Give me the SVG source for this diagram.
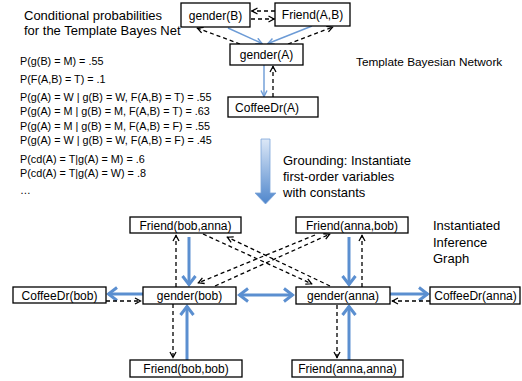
<svg xmlns="http://www.w3.org/2000/svg" width="522" height="381" viewBox="0 0 522 381">
<style>
.box{fill:#fff;stroke:#000;stroke-width:1.3}
.nt{font-family:"Liberation Sans",Arial,sans-serif;font-size:12px;fill:#000;text-anchor:middle}
.lt{font-family:"Liberation Sans",Arial,sans-serif;fill:#000}
.bt{fill:none;stroke:#5B8FD0;stroke-width:3}
.bs{fill:none;stroke:#6C9BD6;stroke-width:1.4}
.dl{fill:none;stroke:#000;stroke-width:1.3;stroke-dasharray:4,3}
</style>
<defs>
<marker id="mb" markerUnits="userSpaceOnUse" viewBox="0 0 12 16" refX="10" refY="8" markerWidth="12" markerHeight="16" orient="auto-start-reverse">
<path d="M1,1.5 L9.5,8 L1,14.5" fill="none" stroke="#5B8FD0" stroke-width="3"/>
</marker>
<marker id="ms" markerUnits="userSpaceOnUse" viewBox="0 0 8 8" refX="7" refY="4" markerWidth="8" markerHeight="8" orient="auto">
<path d="M1,1 L7,4 L1,7" fill="none" stroke="#6C9BD6" stroke-width="1.4"/>
</marker>
<marker id="md" markerUnits="userSpaceOnUse" viewBox="0 0 8 8" refX="7" refY="4" markerWidth="8" markerHeight="8" orient="auto">
<path d="M1,1 L6.5,4 L1,7" fill="none" stroke="#000" stroke-width="1.3"/>
</marker>
<linearGradient id="gr" gradientUnits="userSpaceOnUse" x1="0" y1="139" x2="0" y2="204">
<stop offset="0" stop-color="#DCE8F7"/>
<stop offset="1" stop-color="#4F86CC"/>
</linearGradient>
</defs>

<g id="labels">
<text class="lt" x="24" y="20" font-size="13">Conditional probabilities</text>
<text class="lt" x="24" y="35" font-size="13">for the Template Bayes Net</text>
<g font-size="10.8">
<text class="lt" x="20" y="65">P(g(B) = M) = .55</text>
<text class="lt" x="20" y="83">P(F(A,B) = T) = .1</text>
<text class="lt" x="20" y="101">P(g(A) = W  |  g(B) = W, F(A,B) = T) = .55</text>
<text class="lt" x="20" y="115">P(g(A) = M  |  g(B) = M, F(A,B) = T) = .63</text>
<text class="lt" x="20" y="130">P(g(A) = M  |  g(B) = M, F(A,B) = F) = .55</text>
<text class="lt" x="20" y="144">P(g(A) = W  |  g(B) = W, F(A,B) = F) = .45</text>
<text class="lt" x="20" y="163">P(cd(A) = T|g(A) = M) = .6</text>
<text class="lt" x="20" y="177">P(cd(A) = T|g(A) = W) = .8</text>
<text class="lt" x="20" y="194">…</text>
</g>
<text class="lt" x="356" y="66" font-size="11.8">Template Bayesian Network</text>
<text class="lt" x="283" y="165" font-size="13">Grounding: Instantiate</text>
<text class="lt" x="283" y="181" font-size="13">first-order variables</text>
<text class="lt" x="283" y="197" font-size="13">with constants</text>
<text class="lt" x="433" y="230" font-size="13">Instantiated</text>
<text class="lt" x="433" y="247" font-size="13">Inference</text>
<text class="lt" x="433" y="263" font-size="13">Graph</text>
</g>

<g id="grounding-arrow">
<path d="M261,139 H270 V193 H276 L265.5,204 L255,193 H261 Z" fill="url(#gr)" stroke="#7FA6D9" stroke-width="0.8"/>
</g>

<g id="connectors">
<line class="bs" x1="228" y1="28" x2="262" y2="43.5" marker-end="url(#ms)"/>
<line class="bs" x1="312" y1="26" x2="268" y2="43.5" marker-end="url(#ms)"/>
<line class="bs" x1="264" y1="65" x2="264" y2="96.5" marker-end="url(#ms)"/>
<line class="dl" x1="240" y1="44" x2="197" y2="28" marker-end="url(#md)"/>
<line class="dl" x1="288" y1="44" x2="333" y2="27" marker-end="url(#md)"/>
<line class="dl" x1="273" y1="97" x2="273" y2="66" marker-end="url(#md)"/>
<line class="dl" x1="275" y1="11" x2="251.5" y2="11" marker-end="url(#md)"/>
<line class="dl" x1="251" y1="19" x2="274.5" y2="19" marker-end="url(#md)"/>

<line class="bt" x1="189" y1="237" x2="189" y2="285" marker-end="url(#mb)"/>
<line class="bt" x1="187" y1="360" x2="187" y2="306" marker-end="url(#mb)"/>
<line class="bt" x1="143" y1="294" x2="108" y2="294" marker-end="url(#mb)"/>
<line class="bt" x1="239" y1="295" x2="293" y2="295" marker-start="url(#mb)" marker-end="url(#mb)"/>
<line class="bt" x1="390" y1="294" x2="428" y2="294" marker-end="url(#mb)"/>
<line class="bt" x1="349" y1="237" x2="349" y2="285" marker-end="url(#mb)"/>
<line class="bt" x1="349" y1="360" x2="349" y2="306" marker-end="url(#mb)"/>

<line class="dl" x1="176" y1="287" x2="176" y2="235" marker-end="url(#md)"/>
<line class="dl" x1="173" y1="304" x2="173" y2="358" marker-end="url(#md)"/>
<line class="dl" x1="106" y1="301" x2="141" y2="301" marker-end="url(#md)"/>
<line class="dl" x1="430" y1="301" x2="392" y2="301" marker-end="url(#md)"/>
<line class="dl" x1="362" y1="287" x2="362" y2="235" marker-end="url(#md)"/>
<line class="dl" x1="337" y1="305" x2="337" y2="358" marker-end="url(#md)"/>
<line class="dl" x1="203" y1="234" x2="312" y2="284" marker-end="url(#md)"/>
<line class="dl" x1="330" y1="286" x2="227" y2="237" marker-end="url(#md)"/>
<line class="dl" x1="315" y1="235" x2="198" y2="283" marker-end="url(#md)"/>
<line class="dl" x1="215" y1="286" x2="330" y2="234" marker-end="url(#md)"/>
</g>

<g id="genderB"><rect class="box" x="181" y="3" width="69" height="24"/><text class="nt" x="215.5" y="20">gender(B)</text></g>
<g id="friendAB"><rect class="box" x="275" y="3" width="75" height="23"/><text class="nt" x="312.5" y="19">Friend(A,B)</text></g>
<g id="genderA"><rect class="box" x="230" y="44" width="73" height="21"/><text class="nt" x="266.5" y="59">gender(A)</text></g>
<g id="coffeeA"><rect class="box" x="228" y="97" width="90" height="20"/><text class="nt" x="267" y="112">CoffeeDr(A)</text></g>

<g id="friend-bob-anna"><rect class="box" x="130" y="217" width="111" height="16"/><text class="nt" x="185.5" y="229.5">Friend(bob,anna)</text></g>
<g id="friend-anna-bob"><rect class="box" x="296" y="217" width="112" height="16"/><text class="nt" x="352" y="229.5">Friend(anna,bob)</text></g>
<g id="coffee-bob"><rect class="box" x="13" y="287" width="93" height="16"/><text class="nt" x="59.5" y="299.5">CoffeeDr(bob)</text></g>
<g id="gender-bob"><rect class="box" x="143" y="287" width="93" height="17"/><text class="nt" x="189.5" y="300">gender(bob)</text></g>
<g id="gender-anna"><rect class="box" x="296" y="287" width="94" height="17"/><text class="nt" x="343" y="300">gender(anna)</text></g>
<g id="coffee-anna"><rect class="box" x="430" y="287" width="90" height="17"/><text class="nt" x="475.5" y="300">CoffeeDr(anna)</text></g>
<g id="friend-bob-bob"><rect class="box" x="130" y="360" width="112" height="17"/><text class="nt" x="186" y="373">Friend(bob,bob)</text></g>
<g id="friend-anna-anna"><rect class="box" x="292" y="360" width="111" height="17"/><text class="nt" x="347.5" y="373">Friend(anna,anna)</text></g>
</svg>
